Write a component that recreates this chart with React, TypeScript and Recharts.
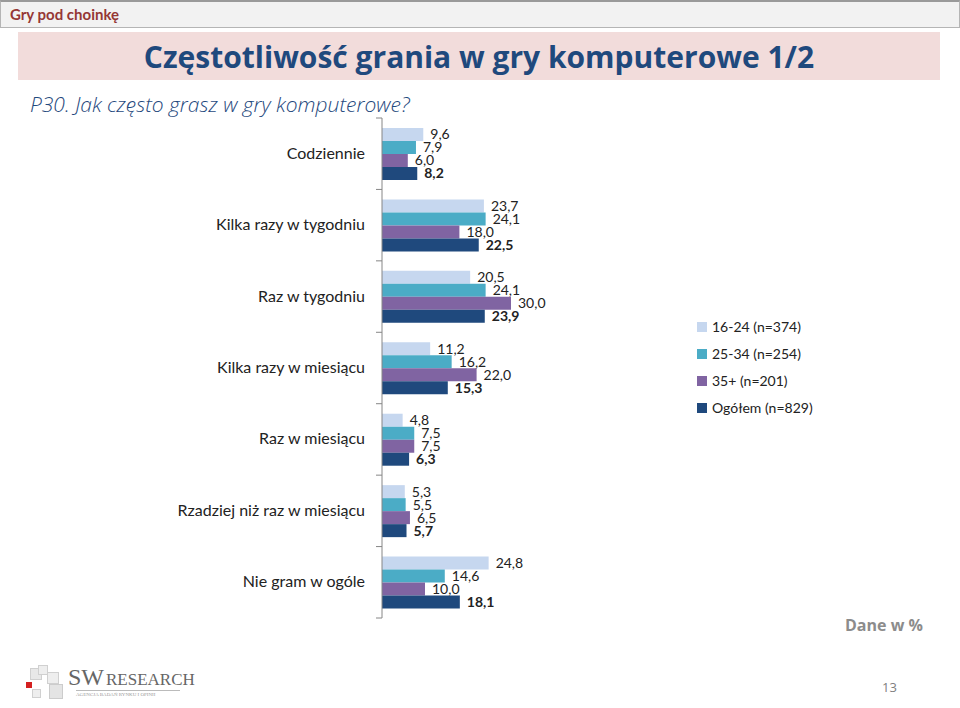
import React from 'react';
import { BarChart, Bar, XAxis, YAxis, LabelList, Legend } from 'recharts';

const categories = [
  'Codziennie',
  'Kilka razy w tygodniu',
  'Raz w tygodniu',
  'Kilka razy w miesiącu',
  'Raz w miesiącu',
  'Rzadziej niż raz w miesiącu',
  'Nie gram w ogóle',
];
const seriesNames = ['16-24 (n=374)', '25-34 (n=254)', '35+ (n=201)', 'Ogółem (n=829)'];
const s1624 = [9.6, 23.7, 20.5, 11.2, 4.8, 5.3, 24.8];
const s2534 = [7.9, 24.1, 24.1, 16.2, 7.5, 5.5, 14.6];
const s35 = [6.0, 18.0, 30.0, 22.0, 7.5, 6.5, 10.0];
const sTotal = [8.2, 22.5, 23.9, 15.3, 6.3, 5.7, 18.1];

const colors = ['#C6D7EF', '#4BACC6', '#8064A2', '#1F497D'];

const data = categories.map((c, i) => ({
  name: c,
  a: s1624[i],
  b: s2534[i],
  c: s35[i],
  d: sTotal[i],
}));

const fmt = (v: any) => Number(v).toFixed(1).replace('.', ',');
const FONT = 'Lato, "Open Sans", sans-serif';
const MARGIN = 17;

const Tick = (props: any) => {
  const { x, y, payload, index, visibleTicksCount } = props;
  const off = payload && typeof payload.offset === 'number' && payload.offset > 0 ? payload.offset : 35.7;
  const ax = x + MARGIN;
  return (
    <g>
      <text x={x} y={y} dy={5} textAnchor="end" fontSize={16} fill="#222" fontFamily={FONT}>
        {payload.value}
      </text>
      <line x1={ax - 6} x2={ax} y1={y - off} y2={y - off} stroke="#868686" strokeWidth={1} />
      {index === (visibleTicksCount ?? 7) - 1 && (
        <line x1={ax - 6} x2={ax} y1={y + off} y2={y + off} stroke="#868686" strokeWidth={1} />
      )}
    </g>
  );
};

const LegendContent = () => (
  <div style={{ fontFamily: FONT, fontSize: 14, color: '#222' }}>
    {seriesNames.map((n, i) => (
      <div key={n} style={{ display: 'flex', alignItems: 'center', height: 27 }}>
        <span style={{ display: 'inline-block', width: 10, height: 10, background: colors[i], marginRight: 5 }} />
        <span>{n}</span>
      </div>
    ))}
  </div>
);

export default function App() {
  return (
    <div style={{ position: 'absolute', left: 0, top: 0, width: 960, height: 708, background: '#fff', overflow: 'hidden' }}>
      {/* header bar */}
      <div style={{ position: 'absolute', left: 0, top: 0, width: 958, height: 25, background: '#F2F2F2', borderTop: '2px solid #9A9A9A', borderBottom: '1px solid #B5B5B5', borderLeft: '1px solid #B5B5B5', borderRight: '1px solid #B5B5B5' }} />
      <div style={{ position: 'absolute', left: 10, top: 5, fontFamily: FONT, fontWeight: 700, fontSize: 15, color: '#953735' }}>Gry pod choinkę</div>
      {/* title box */}
      <div style={{ position: 'absolute', left: 18, top: 32, width: 922, height: 48, background: '#F2DCDB', display: 'flex', alignItems: 'center', justifyContent: 'center' }}>
        <span style={{ fontFamily: '"Open Sans", sans-serif', fontWeight: 700, fontSize: 30, color: '#1F497D' }}>Częstotliwość grania w gry komputerowe 1/2</span>
      </div>
      <div style={{ position: 'absolute', left: 30, top: 90, fontFamily: '"Open Sans", sans-serif', fontStyle: 'italic', fontWeight: 300, fontSize: 21, color: '#1F497D' }}>P30. Jak często grasz w gry komputerowe?</div>

      <div style={{ position: 'absolute', left: 0, top: 0 }}>
        <BarChart
          width={960}
          height={708}
          data={data}
          layout="vertical"
          margin={{ top: 118, bottom: 90, left: 0, right: 148 }}
          barGap={0}
          barSize={13}
        >
          <XAxis type="number" domain={[0, 100]} hide />
          <YAxis
            type="category"
            dataKey="name"
            width={382}
            axisLine={{ stroke: '#868686' }}
            tickLine={false}
            tickSize={0}
            tickMargin={MARGIN}
            tick={<Tick />}
            interval={0}
          />
          <Legend
            layout="vertical"
            align="center"
            verticalAlign="middle"
            content={<LegendContent />}
            wrapperStyle={{ position: 'absolute', left: 697, top: 313, width: 160, height: 110 }}
          />
          {(['a', 'b', 'c', 'd'] as const).map((k, i) => (
            <Bar key={k} dataKey={k} name={seriesNames[i]} fill={colors[i]} isAnimationActive={false}>
              <LabelList
                dataKey={k}
                position="right"
                offset={7}
                formatter={fmt}
                style={{ fontFamily: FONT, fontSize: 14, fill: '#222', fontWeight: i === 3 ? 700 : 400 }}
              />
            </Bar>
          ))}
        </BarChart>
      </div>

      <div style={{ position: 'absolute', left: 845, top: 614, fontFamily: '"Open Sans", sans-serif', fontWeight: 700, fontSize: 16, color: '#8C8C8C' }}>Dane w %</div>
      <div style={{ position: 'absolute', left: 882, top: 678, fontFamily: '"Open Sans", sans-serif', fontSize: 13, color: '#7F7F7F' }}>13</div>

      {/* logo */}
      <div style={{ position: 'absolute', left: 30, top: 668, width: 10, height: 10, background: '#e8e8e8', border: '1px solid #d0d0d0' }} />
      <div style={{ position: 'absolute', left: 38, top: 665, width: 8, height: 8, background: '#eeeeee', border: '1px solid #d0d0d0' }} />
      <div style={{ position: 'absolute', left: 47, top: 672, width: 10, height: 10, background: '#eeeeee', border: '1px solid #d0d0d0' }} />
      <div style={{ position: 'absolute', left: 26, top: 682, width: 6, height: 6, background: '#D42020' }} />
      <div style={{ position: 'absolute', left: 32, top: 689, width: 7, height: 7, background: '#eeeeee', border: '1px solid #d0d0d0' }} />
      <div style={{ position: 'absolute', left: 49, top: 684, width: 12, height: 13, background: '#e4e4e4', border: '1px solid #cccccc' }} />
      <div style={{ position: 'absolute', left: 68, top: 664, fontFamily: '"Liberation Serif", "DejaVu Serif", serif', color: '#666', whiteSpace: 'nowrap' }}>
        <span style={{ fontSize: 24 }}>SW</span>
        <span style={{ fontSize: 17, marginLeft: 2 }}>RESEARCH</span>
      </div>
      <div style={{ position: 'absolute', left: 76, top: 690, width: 104, borderTop: '1px solid #bbb' }} />
      <div style={{ position: 'absolute', left: 76, top: 692, fontFamily: '"Liberation Serif", serif', fontSize: 5, color: '#999', whiteSpace: 'nowrap' }}>AGENCJA BADAŃ RYNKU I OPINII</div>
    </div>
  );
}
